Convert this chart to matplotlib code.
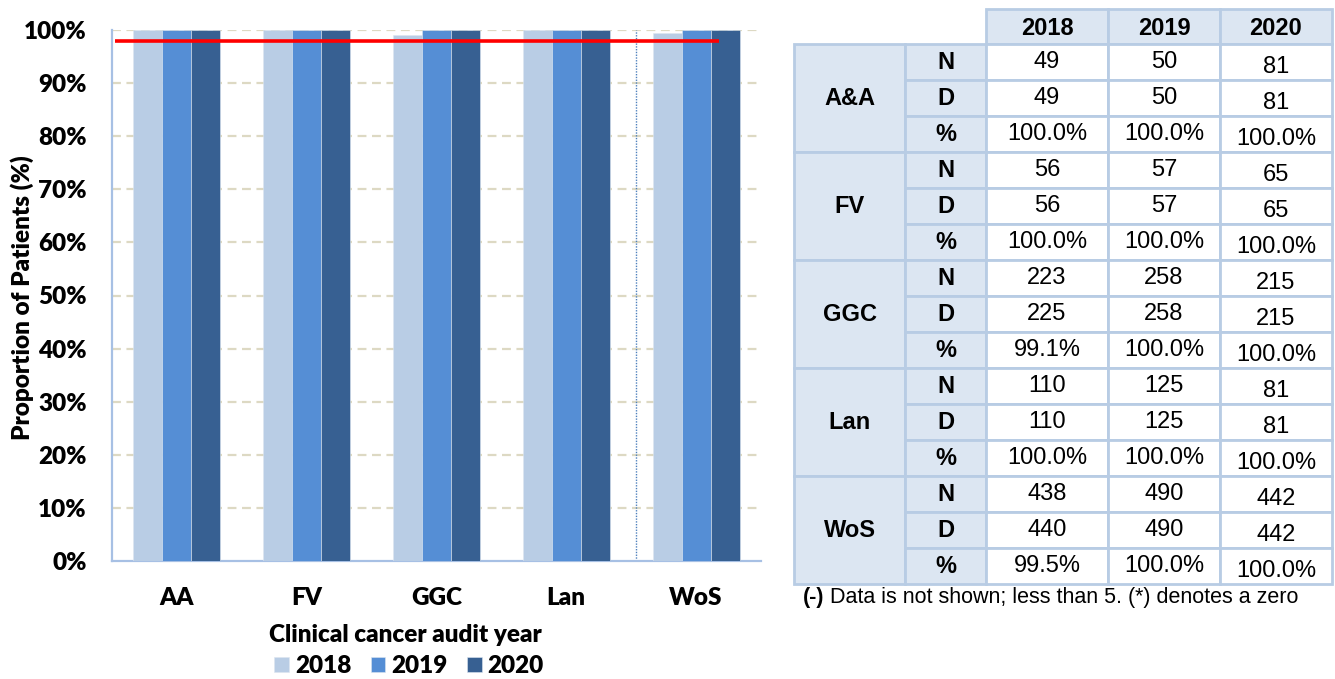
import matplotlib
matplotlib.use("Agg")
import matplotlib.pyplot as plt
from matplotlib.patches import Rectangle
import numpy as np

# ---- data ----
boards = ["AA", "FV", "GGC", "Lan", "WoS"]
years = ["2018", "2019", "2020"]
pct_2018 = [100.0, 100.0, 99.1, 100.0, 99.5]
pct_2019 = [100.0, 100.0, 100.0, 100.0, 100.0]
pct_2020 = [100.0, 100.0, 100.0, 100.0, 100.0]
target = 98.0

table_boards = ["A&A", "FV", "GGC", "Lan", "WoS"]
num_2018 = [49, 56, 223, 110, 438]
num_2019 = [50, 57, 258, 125, 490]
num_2020 = [81, 65, 215, 81, 442]
den_2018 = [49, 56, 225, 110, 440]
den_2019 = [50, 57, 258, 125, 490]
den_2020 = [81, 65, 215, 81, 442]
footnote = "Data is not shown; less than 5. (*) denotes a zero"

colors = ["#B9CDE5", "#558ED5", "#376092"]

W, H = 1335, 679
fig = plt.figure(figsize=(W / 100, H / 100), dpi=100)

CH_FAMILY = "Lato"
CH_WEIGHT = "heavy"
CH_SIZE = 17.5

# ---- bar chart ----
ax_l, ax_r, ax_t, ax_b = 111.7, 761.0, 30.0, 561.0
ax = fig.add_axes([ax_l / W, 1 - ax_b / H, (ax_r - ax_l) / W, (ax_b - ax_t) / H])

x = np.arange(len(boards))
bw = 0.223
series = [pct_2018, pct_2019, pct_2020]
for i, (vals, c, yr) in enumerate(zip(series, colors, years)):
    ax.bar(x + (i - 1) * bw, vals, width=bw, color=c, label=yr, zorder=3,
           edgecolor="#DDE6F0", linewidth=0.4)

ax.hlines(target, -0.475, 4.178, color="#FF0000", linewidth=2.6, zorder=5)
ax.axvline(3.54, color="#4F81BD", linestyle=(0, (1, 1)), linewidth=1.0, zorder=2)

ax.set_xlim(-0.5, 4.5)
ax.set_ylim(0, 100)
ax.set_yticks(np.arange(0, 101, 10))
ax.set_yticklabels([f"{v}%" for v in range(0, 101, 10)])
ax.set_xticks(x)
ax.set_xticklabels(boards)
for yv in range(10, 101, 10):
    ax.axhline(yv, color="#DDD9C3", linestyle=(0, (4, 2.5)), linewidth=1.6, zorder=1)

for s in ["top", "right"]:
    ax.spines[s].set_visible(False)
for s in ["left", "bottom"]:
    ax.spines[s].set_color("#A7C0E4")
    ax.spines[s].set_linewidth(1.6)
ax.tick_params(axis="both", length=0)
ax.tick_params(axis="y", pad=18)
ax.tick_params(axis="x", pad=19)

font_chart = dict(family=CH_FAMILY, weight=CH_WEIGHT, size=CH_SIZE)
for lbl in ax.get_yticklabels() + ax.get_xticklabels():
    lbl.set_fontfamily(CH_FAMILY)
    lbl.set_fontweight(CH_WEIGHT)
    lbl.set_fontsize(CH_SIZE)

fig.text(22 / W, 1 - 298 / H, "Proportion of Patients (%)", rotation=90,
         ha="center", va="center", **font_chart)
fig.text(405 / W, 1 - 635 / H, "Clinical cancer audit year",
         ha="center", va="center", **font_chart)

leg = fig.legend(loc="center", bbox_to_anchor=(409 / W, 1 - 666 / H), ncol=3,
                 frameon=False, handlelength=0.6, handleheight=0.6,
                 handletextpad=0.25, columnspacing=0.8, borderpad=0,
                 prop=dict(family=CH_FAMILY, weight=CH_WEIGHT, size=CH_SIZE))

# ---- data table ----
tax = fig.add_axes([0, 0, 1, 1])
tax.set_xlim(0, W)
tax.set_ylim(H, 0)
tax.axis("off")

col_x = [794, 905, 986, 1108, 1220, 1332]
head_top, head_bot = 9, 44.3
row_h = (584 - head_bot) / 15
fill = "#DCE6F2"
edge = "#B8CCE4"
lw = 2.0
tfont = dict(family=["Liberation Sans", "DejaVu Sans"], size=17)

def cell(x0, y0, x1, y1, color):
    tax.add_patch(Rectangle((x0, y0), x1 - x0, y1 - y0, facecolor=color,
                            edgecolor=edge, linewidth=lw, zorder=2))

# header
for j, yr in enumerate(years):
    x0, x1 = col_x[2 + j], col_x[3 + j]
    cell(x0, head_top, x1, head_bot, fill)
    tax.text((x0 + x1) / 2, (head_top + head_bot) / 2 + 2, yr, ha="center",
             va="center", weight="bold", zorder=3, **tfont)

rows = ["N", "D", "%"]
for b, name in enumerate(table_boards):
    y0 = head_bot + 3 * b * row_h
    cell(col_x[0], y0, col_x[1], y0 + 3 * row_h, fill)
    tax.text((col_x[0] + col_x[1]) / 2, y0 + 1.5 * row_h, name, ha="center",
             va="center", weight="bold", zorder=3, **tfont)
    nums = [num_2018[b], num_2019[b], num_2020[b]]
    dens = [den_2018[b], den_2019[b], den_2020[b]]
    for r, rl in enumerate(rows):
        ry0 = y0 + r * row_h
        ry1 = ry0 + row_h
        cell(col_x[1], ry0, col_x[2], ry1, fill)
        tax.text((col_x[1] + col_x[2]) / 2, (ry0 + ry1) / 2, rl, ha="center",
                 va="center", weight="bold", zorder=3, **tfont)
        for j in range(3):
            x0, x1 = col_x[2 + j], col_x[3 + j]
            cell(x0, ry0, x1, ry1, "white")
            if r == 0:
                s = f"{nums[j]}"
            elif r == 1:
                s = f"{dens[j]}"
            else:
                s = f"{100 * nums[j] / dens[j]:.1f}%"
            dy = 4.5 if j == 2 else 0
            tax.text((x0 + x1) / 2, (ry0 + ry1) / 2 + dy, s, ha="center",
                     va="center", zorder=3, **tfont)

# footnote
fn_size = 15.5
t1 = tax.text(803, 598, "(-)", ha="left", va="center", weight="bold",
              family=["Liberation Sans", "DejaVu Sans"], size=fn_size)
fig.canvas.draw()
bb = t1.get_window_extent()
x_next = bb.x1 + 5
tax.text(x_next, 598, footnote, ha="left", va="center",
         family=["Liberation Sans", "DejaVu Sans"], size=fn_size)

fig.savefig("out.png", dpi=100)
